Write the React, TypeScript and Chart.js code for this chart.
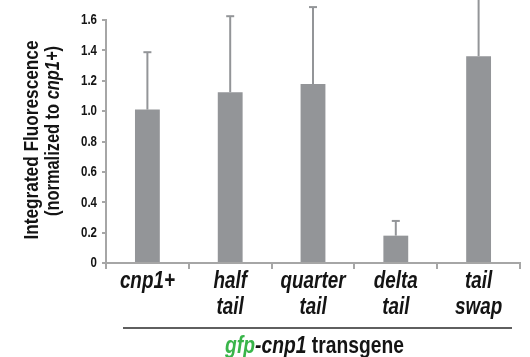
import React, { useEffect, useRef } from "react";
import { Chart, registerables } from "chart.js";

Chart.register(...registerables);

const categories: string[][] = [["cnp1+"], ["half", "tail"], ["quarter", "tail"], ["delta", "tail"], ["tail", "swap"]];
const meanValues: number[] = [1.01, 1.125, 1.178, 0.18, 1.362];
const errorTops: number[] = [1.388, 1.625, 1.685, 0.277, 1.9];
const yTickMax = 1.6;
const yTickStep = 0.2;

const FONT = "'Liberation Sans', Arial, Helvetica, sans-serif";
const SQUEEZE = 0.82;
const BAR = "#939598";
const AXIS = "#a6a6a6";
const INK = "#141414";

const errorBarPlugin = {
  id: "errorBars",
  afterDatasetsDraw(chart: any) {
    const ctx = chart.ctx;
    const meta = chart.getDatasetMeta(0);
    const y = chart.scales.y;
    ctx.save();
    ctx.strokeStyle = BAR;
    ctx.lineWidth = 2;
    meta.data.forEach((bar: any, i: number) => {
      const x = bar.x;
      const yTop = y.getPixelForValue(errorTops[i]);
      const yBase = y.getPixelForValue(meanValues[i]);
      ctx.beginPath();
      ctx.moveTo(x, yBase);
      ctx.lineTo(x, yTop);
      ctx.stroke();
      ctx.beginPath();
      ctx.moveTo(x - 4, yTop);
      ctx.lineTo(x + 4, yTop);
      ctx.stroke();
    });
    ctx.restore();
  },
};

type Run = { t: string; f: string; c: string };

// draws runs of text horizontally squeezed, anchored at (ax, ay) with align center|right
function drawRuns(ctx: CanvasRenderingContext2D, runs: Run[], ax: number, ay: number, align: "center" | "right" = "center") {
  ctx.save();
  ctx.translate(ax, ay);
  ctx.scale(SQUEEZE, 1);
  ctx.textAlign = "left";
  ctx.textBaseline = "middle";
  let total = 0;
  runs.forEach((r) => {
    ctx.font = r.f;
    total += ctx.measureText(r.t).width;
  });
  let x = align === "center" ? -total / 2 : -total;
  runs.forEach((r) => {
    ctx.font = r.f;
    ctx.fillStyle = r.c;
    ctx.fillText(r.t, x, 0);
    x += ctx.measureText(r.t).width;
  });
  ctx.restore();
}

const labelsPlugin = {
  id: "labels",
  afterDraw(chart: any) {
    const ctx: CanvasRenderingContext2D = chart.ctx;
    const area = chart.chartArea;
    const xs = chart.scales.x;
    const ys = chart.scales.y;
    ctx.save();
    // y tick labels
    ys.ticks.forEach((t: any) => {
      const v = Number(t.value);
      const txt = v === 0 ? "0" : v.toFixed(1);
      drawRuns(ctx, [{ t: txt, f: `bold 14px ${FONT}`, c: INK }], area.left - 9, ys.getPixelForValue(v) + 0.5, "right");
    });
    // x category labels
    categories.forEach((lines, i) => {
      const cx = xs.getPixelForValue(i);
      lines.forEach((ln, j) => {
        drawRuns(ctx, [{ t: ln, f: `italic bold 23px ${FONT}`, c: INK }], cx, area.bottom + 19 + j * 26);
      });
    });
    // Y axis title (rotated)
    ctx.save();
    ctx.translate(32, 140);
    ctx.rotate(-Math.PI / 2);
    drawRuns(ctx, [{ t: "Integrated Fluorescence", f: `bold 21px ${FONT}`, c: INK }], 0, 0);
    ctx.restore();
    ctx.save();
    ctx.translate(53, 131);
    ctx.rotate(-Math.PI / 2);
    drawRuns(
      ctx,
      [
        { t: "(normalized to ", f: `bold 20px ${FONT}`, c: INK },
        { t: "cnp1+", f: `italic bold 20px ${FONT}`, c: INK },
        { t: ")", f: `bold 20px ${FONT}`, c: INK },
      ],
      0,
      0
    );
    ctx.restore();
    // bottom rule and group title
    const x0 = area.left + 17;
    const x1 = area.right - 8;
    ctx.strokeStyle = "#2a2a2a";
    ctx.lineWidth = 1.5;
    ctx.beginPath();
    ctx.moveTo(x0, 328);
    ctx.lineTo(x1, 328);
    ctx.stroke();
    drawRuns(
      ctx,
      [
        { t: "gfp", f: `italic bold 23.5px ${FONT}`, c: "#39b54a" },
        { t: "-cnp1", f: `italic bold 23.5px ${FONT}`, c: INK },
        { t: " transgene", f: `bold 23.5px ${FONT}`, c: INK },
      ],
      (x0 + x1) / 2 - 3,
      347
    );
    ctx.restore();
  },
};

export default function App() {
  const ref = useRef<HTMLCanvasElement | null>(null);
  useEffect(() => {
    document.body.style.margin = "0";
    if (!ref.current) return;
    const chart = new Chart(ref.current, {
      type: "bar",
      data: {
        labels: categories.map((c) => c.join(" ")),
        datasets: [
          {
            data: meanValues,
            backgroundColor: BAR,
            borderWidth: 0,
            barPercentage: 0.3,
            categoryPercentage: 1,
          },
        ],
      },
      options: {
        animation: false,
        responsive: false,
        maintainAspectRatio: false,
        layout: { padding: { top: 20, right: 10, left: 0, bottom: 0 } },
        plugins: { legend: { display: false }, tooltip: { enabled: false }, title: { display: false } },
        scales: {
          x: {
            grid: { display: true, drawOnChartArea: false, offset: true, tickLength: 6, color: AXIS, lineWidth: 2 },
            border: { display: true, color: AXIS, width: 2 },
            ticks: { display: false, autoSkip: false },
            afterFit(scale: any) {
              scale.height = 94;
            },
          },
          y: {
            min: 0,
            max: yTickMax,
            grid: { display: true, drawOnChartArea: false, tickLength: 4, color: AXIS, lineWidth: 2 },
            border: { display: true, color: AXIS, width: 2 },
            ticks: { display: false, stepSize: yTickStep },
            afterFit(scale: any) {
              scale.width = 106;
            },
          },
        },
      },
      plugins: [errorBarPlugin, labelsPlugin],
    });
    return () => chart.destroy();
  }, []);
  return (
    <div style={{ position: "absolute", left: 0, top: 0, width: 530, height: 357 }}>
      <canvas ref={ref} width={530} height={357} style={{ width: 530, height: 357, display: "block" }} />
    </div>
  );
}
